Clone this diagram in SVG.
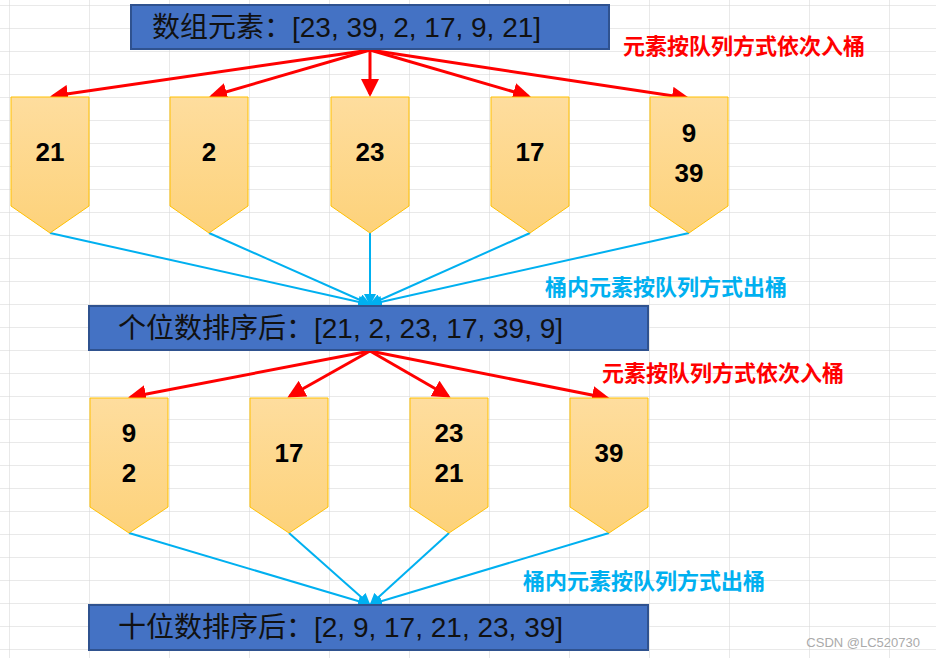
<svg xmlns="http://www.w3.org/2000/svg" width="936" height="658" viewBox="0 0 936 658">
<defs>
<linearGradient id="g" x1="0" y1="0" x2="0" y2="1"><stop offset="0" stop-color="#fedd9e"/><stop offset="1" stop-color="#fdd27a"/></linearGradient>
<pattern id="grid" width="80" height="23" patternUnits="userSpaceOnUse" x="9" y="5"><path d="M0 0V23M0 0H80" fill="none" stroke="#d4d4d4" stroke-width="1"/></pattern>
<marker id="ar" markerWidth="6" markerHeight="6" refX="5" refY="3" orient="auto" markerUnits="strokeWidth"><path d="M0 0L6 3L0 6z" fill="#ff0000"/></marker>
<marker id="ab" markerWidth="6" markerHeight="6" refX="5" refY="3" orient="auto" markerUnits="strokeWidth"><path d="M0 0L6 3L0 6z" fill="#00b0f0"/></marker>
<style>
.bk{fill:url(#g);stroke:#ffc000;stroke-width:1}
.n{font-family:"Liberation Sans",Arial,sans-serif;font-weight:bold;font-size:26px;text-anchor:middle}
.bx{fill:#4472c4;stroke:#2f528f;stroke-width:2}
.bt{font-family:"Liberation Sans","Noto Sans CJK SC",sans-serif;font-size:28px;fill:#111}
.r{stroke:#ff0000;stroke-width:3;fill:none;marker-end:url(#ar)}
.b{stroke:#00b0f0;stroke-width:2;fill:none;marker-end:url(#ab)}
.lr{font-family:"Noto Sans CJK SC",sans-serif;font-weight:bold;font-size:22px;fill:#ff0000}
.lb{font-family:"Noto Sans CJK SC",sans-serif;font-weight:bold;font-size:22px;fill:#00b0f0}
</style>
</defs>
<rect width="936" height="658" fill="#fff"/>
<rect width="936" height="658" fill="url(#grid)"/>
<g id="connectors">
<path class="r" d="M370 50L53 96"/><path class="r" d="M370 50L212 96"/><path class="r" d="M370 50L370 94"/><path class="r" d="M370 50L528 96"/><path class="r" d="M370 50L687 98"/>
<path class="b" d="M50 233L368 304"/><path class="b" d="M209 233L369 304"/><path class="b" d="M370 233L370 304"/><path class="b" d="M530 233L371 304"/><path class="b" d="M689 233L372 304"/>
<path class="r" d="M370 351L131 397"/><path class="r" d="M370 351L290 396"/><path class="r" d="M370 351L448 396"/><path class="r" d="M370 351L607 398"/>
<path class="b" d="M129 533L368 604"/><path class="b" d="M289 533L369 604"/><path class="b" d="M449 533L371 604"/><path class="b" d="M609 533L372 604"/>
</g>
<g id="box1"><rect class="bx" x="131" y="5" width="478" height="44"/><text class="bt" x="152" y="37">数组元素：[23, 39, 2, 17, 9, 21]</text></g>
<g id="box2"><rect class="bx" x="89" y="306" width="559" height="44"/><text class="bt" x="118" y="338">个位数排序后：[21, 2, 23, 17, 39, 9]</text></g>
<g id="box3"><rect class="bx" x="89" y="605" width="559" height="45"/><text class="bt" x="118" y="637">十位数排序后：[2, 9, 17, 21, 23, 39]</text></g>
<g id="b1"><path class="bk" d="M11 97H89V206L50 233L11 206Z"/><text class="n" x="50" y="161">21</text></g>
<g id="b2"><path class="bk" d="M170 97H248V206L209 233L170 206Z"/><text class="n" x="209" y="161">2</text></g>
<g id="b3"><path class="bk" d="M331 97H409V206L370 233L331 206Z"/><text class="n" x="370" y="161">23</text></g>
<g id="b4"><path class="bk" d="M491 97H569V206L530 233L491 206Z"/><text class="n" x="530" y="161">17</text></g>
<g id="b5"><path class="bk" d="M650 97H728V206L689 233L650 206Z"/><text class="n" x="689" y="142">9</text><text class="n" x="689" y="182">39</text></g>
<g id="c1"><path class="bk" d="M90 398H168V507L129 533L90 507Z"/><text class="n" x="129" y="442">9</text><text class="n" x="129" y="482">2</text></g>
<g id="c2"><path class="bk" d="M250 398H328V507L289 533L250 507Z"/><text class="n" x="289" y="462">17</text></g>
<g id="c3"><path class="bk" d="M410 398H488V507L449 533L410 507Z"/><text class="n" x="449" y="442">23</text><text class="n" x="449" y="482">21</text></g>
<g id="c4"><path class="bk" d="M570 398H648V507L609 533L570 507Z"/><text class="n" x="609" y="462">39</text></g>
<g id="labels">
<text class="lr" x="623" y="54">元素按队列方式依次入桶</text>
<text class="lb" x="545" y="295">桶内元素按队列方式出桶</text>
<text class="lr" x="602" y="381">元素按队列方式依次入桶</text>
<text class="lb" x="523" y="589">桶内元素按队列方式出桶</text>
<text x="920" y="647" font-family="Liberation Sans,sans-serif" font-size="13" fill="#aaa" text-anchor="end">CSDN @LC520730</text>
</g>
</svg>
